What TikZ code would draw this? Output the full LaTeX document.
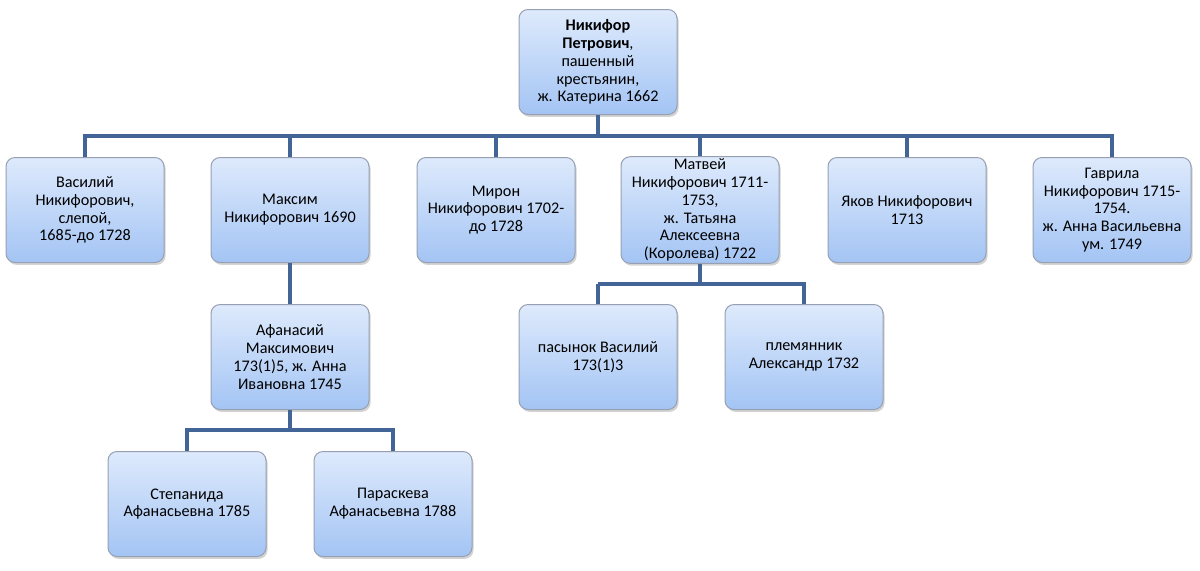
\documentclass[tikz,border=0pt]{standalone}
\usepackage{fontspec}
\setmainfont{Carlito}
\usetikzlibrary{shadows}
\definecolor{boxtop}{RGB}{222,234,252}
\definecolor{boxbot}{RGB}{163,196,244}
\definecolor{boxline}{RGB}{150,160,178}
\definecolor{conn}{RGB}{66,100,150}
\tikzset{
  person/.style={rectangle, rounded corners=4.5pt, draw=boxline, line width=0.5pt,
    top color=boxtop, bottom color=boxbot, minimum width=79pt, minimum height=52.5pt,
    inner sep=1pt, align=center,
    font=\fontsize{8.1pt}{8.9pt}\selectfont,
    drop shadow={opacity=0.35, shadow xshift=0.8pt, shadow yshift=-1.2pt}},
  link/.style={draw=conn, line width=1.6pt}
}
\begin{document}
\begin{tikzpicture}[x=0.5pt,y=-0.5pt]
\useasboundingbox (0,0) rectangle (1200,570);
\node[person] (nik) at (598,62) {\textbf{Никифор}\\\textbf{Петрович},\\пашенный\\крестьянин,\\ж. Катерина 1662};
\node[person] (vas) at (85,210) {Василий\\Никифорович,\\слепой,\\1685-до 1728};
\node[person] (max) at (290,210) {Максим\\Никифорович 1690};
\node[person] (mir) at (496,210) {Мирон\\Никифорович 1702-\\до 1728};
\node[person] (mat) at (700,210) {Матвей\\Никифорович 1711-\\1753,\\ж. Татьяна\\Алексеевна\\(Королева) 1722};
\node[person] (yak) at (907,210) {Яков Никифорович\\1713};
\node[person] (gav) at (1112,210) {Гаврила\\Никифорович 1715-\\1754.\\ж. Анна Васильевна\\ум. 1749};
\node[person] (afa) at (290,357) {Афанасий\\Максимович\\173(1)5, ж. Анна\\Ивановна 1745};
\node[person] (pas) at (598,357) {пасынок Василий\\173(1)3};
\node[person] (ple) at (804,357) {племянник\\Александр 1732};
\node[person] (ste) at (187,504) {Степанида\\Афанасьевна 1785};
\node[person] (par) at (393,504) {Параскева\\Афанасьевна 1788};
\coordinate (b1) at (598,136);
\coordinate (b2) at (598,284);
\coordinate (b3) at (290,430);
\begin{scope}[on background layer/.try]
\draw[link] (nik.south) -- (b1);
\foreach \c in {vas,max,mir,mat,yak,gav} \draw[link] (b1) -| (\c.north);
\draw[link] (max.south) -- (afa.north);
\draw[link] (mat.south) |- (b2);
\foreach \c in {pas,ple} \draw[link] (b2) -| (\c.north);
\draw[link] (afa.south) -- (b3);
\foreach \c in {ste,par} \draw[link] (b3) -| (\c.north);
\end{scope}
\end{tikzpicture}
\end{document}
